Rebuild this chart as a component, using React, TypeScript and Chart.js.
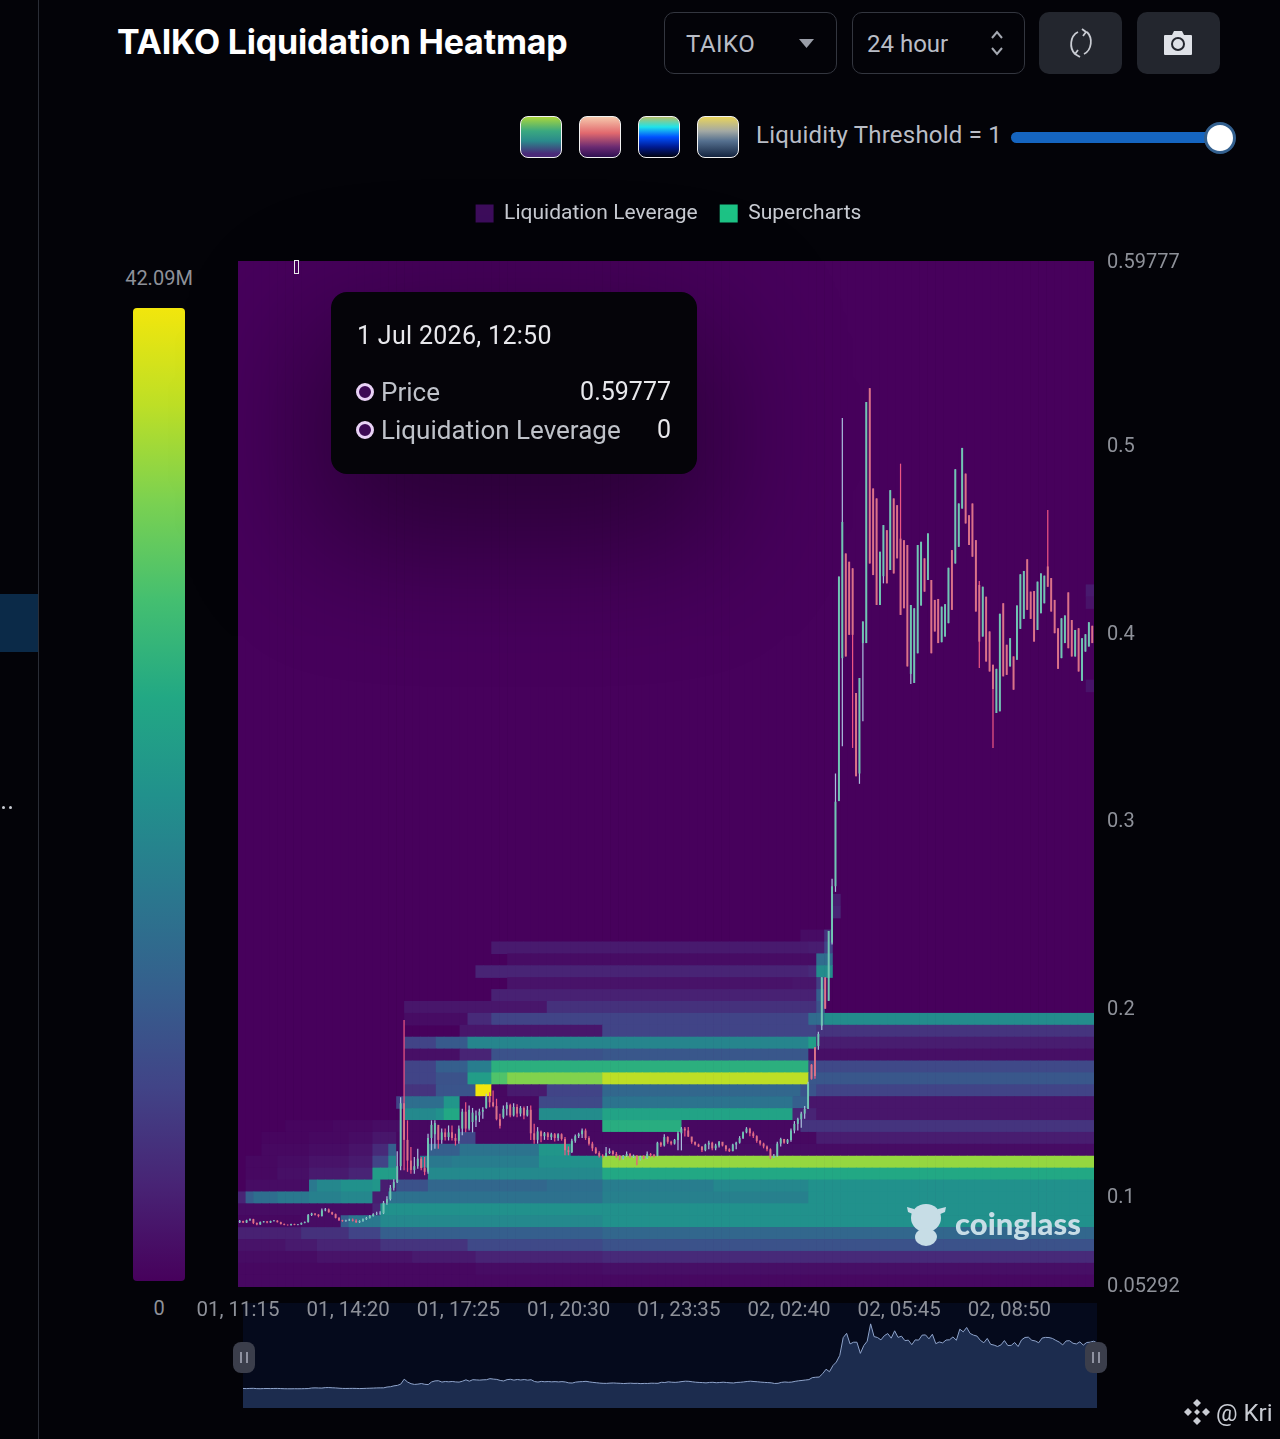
import React, { useEffect, useRef } from "react";
import { Chart, registerables } from "chart.js";

Chart.register(...registerables);

const xTickMinutes = [0, 185, 370, 555, 740, 925, 1110, 1295];
const xTickLabels = ["01, 11:15", "01, 14:20", "01, 17:25", "01, 20:30", "01, 23:35", "02, 02:40", "02, 05:45", "02, 08:50"];
const yTickValues = [0.05292, 0.1, 0.2, 0.3, 0.4, 0.5, 0.59777];
const legendNames = ["Liquidation Leverage", "Supercharts"];
const tooltipTitle = "1 Jul 2026, 12:50";
const tooltipPrice = "0.59777";
const tooltipLeverage = "0";
const colorbarMax = "42.09M";
const colorbarMin = "0";

// Candles (price units)
const candleOpen = [
  .0862,.0868,.0860,.0872,.0878,.0858,.0850,.0862,.0866,.0860,
  .0868,.0870,.0862,.0852,.0848,.0846,.0852,.0848,.0850,.0858,
  .0862,.0900,.0908,.0902,.0895,.0925,.0930,.0915,.0905,.0885,
  .0872,.0868,.0872,.0875,.0870,.0862,.0868,.0878,.0885,.0895,
  .0905,.0908,.0910,.0965,.0985,.1045,.1075,.1160,.1495,.1300,
  .1190,.1140,.1160,.1200,.1150,.1130,.1310,.1330,.1380,.1300,
  .1340,.1315,.1340,.1310,.1295,.1360,.1450,.1360,.1395,.1405,
  .1430,.1450,.1470,.1530,.1500,.1480,.1410,.1420,.1465,.1485,
  .1430,.1475,.1440,.1470,.1430,.1460,.1335,.1300,.1345,.1320,
  .1335,.1315,.1330,.1310,.1330,.1305,.1245,.1235,.1295,.1320,
  .1330,.1350,.1310,.1280,.1255,.1230,.1215,.1212,.1230,.1240,
  .1225,.1215,.1200,.1215,.1225,.1210,.1215,.1195,.1210,.1205,
  .1225,.1220,.1215,.1285,.1270,.1315,.1290,.1280,.1300,.1335,
  .1360,.1350,.1318,.1290,.1275,.1265,.1245,.1275,.1285,.1255,
  .1270,.1290,.1270,.1250,.1240,.1275,.1285,.1310,.1340,.1360,
  .1335,.1320,.1295,.1280,.1265,.1250,.1205,.1215,.1280,.1305,
  .1285,.1300,.1350,.1385,.1410,.1440,.1465,.1700,.1793,.1800,
  .1908,.2165,.2040,.2350,.2650,.3103,.3864,
  .4421,.4377,.4342,.3678,.3250,.3944,.3944,.5301,.4767,.4714,
  .4147,.4300,.4545,.4333,.4714,.4678,.4500,.4492,.4466,.3780,
  .3732,.3890,.4144,.4395,.4280,.4280,.4174,.4179,.3949,.3979,
  .4050,.4439,.4368,.4457,.4660,.4846,.4625,.4687,.4492,.4253,
  .3979,.4191,.4006,.3829,.3572,.3581,.4156,.3935,.3820,.3873,
  .3855,.4020,.4073,.4390,.4218,.4221,.4014,.4103,.4156,.4352,
  .4290,.4174,.4023,.3864,.3944,.4214,.4067,.3873,.4023,.3744,.3899,.3926,.4036,
];
const candleClose = [
  .0868,.0860,.0872,.0878,.0858,.0850,.0862,.0866,.0860,.0868,
  .0870,.0862,.0852,.0848,.0846,.0852,.0848,.0850,.0858,.0862,
  .0900,.0908,.0902,.0895,.0925,.0930,.0915,.0905,.0885,.0872,
  .0868,.0872,.0875,.0870,.0862,.0868,.0878,.0885,.0895,.0905,
  .0908,.0910,.0965,.0985,.1045,.1075,.1160,.1495,.1300,.1190,
  .1140,.1160,.1200,.1150,.1130,.1310,.1380,.1390,.1300,.1340,
  .1315,.1340,.1310,.1295,.1360,.1450,.1360,.1460,.1445,.1430,
  .1450,.1460,.1530,.1500,.1480,.1410,.1375,.1465,.1485,.1430,
  .1475,.1440,.1470,.1430,.1460,.1335,.1300,.1345,.1320,.1335,
  .1315,.1330,.1310,.1330,.1305,.1245,.1235,.1295,.1320,.1330,
  .1350,.1310,.1280,.1255,.1230,.1215,.1212,.1230,.1240,.1225,
  .1215,.1200,.1215,.1225,.1210,.1215,.1195,.1210,.1205,.1225,
  .1220,.1215,.1285,.1270,.1315,.1290,.1280,.1300,.1335,.1360,
  .1350,.1318,.1290,.1275,.1265,.1245,.1275,.1285,.1255,.1270,
  .1290,.1270,.1250,.1240,.1275,.1285,.1310,.1340,.1360,.1335,
  .1320,.1295,.1280,.1265,.1250,.1205,.1215,.1280,.1305,.1285,
  .1300,.1350,.1385,.1410,.1440,.1465,.1600,.1625,.1640,.1864,
  .2165,.1998,.2412,.2650,.3100,.4298,.4589,
  .3873,.3988,.3988,.3236,.3758,.4059,.5227,.4368,.4306,.4147,
  .4430,.4572,.4262,.4758,.4315,.4395,.4094,.4129,.3820,.4147,
  .4129,.4466,.4483,.4218,.4528,.3890,.4006,.3944,.4138,.4151,
  .4345,.4121,.4869,.4687,.4983,.4581,.4466,.4404,.4112,.3952,
  .4244,.3846,.3793,.3700,.3807,.4100,.3767,.3775,.3970,.3696,
  .4144,.4310,.4328,.4121,.4073,.3952,.4271,.4315,.4303,.4244,
  .4112,.3997,.3807,.4076,.4091,.3917,.3873,.4014,.3793,.3970,.3991,.4055,.3944,
];
const candleHigh = [
  .0873,.0870,.0875,.0882,.0880,.0860,.0865,.0868,.0868,.0870,
  .0874,.0872,.0864,.0855,.0850,.0854,.0854,.0852,.0860,.0866,
  .0905,.0912,.0910,.0905,.0935,.0938,.0935,.0918,.0908,.0888,
  .0875,.0875,.0880,.0882,.0878,.0872,.0882,.0890,.0900,.0910,
  .0918,.0920,.0975,.1000,.1060,.1090,.1240,.1527,.1938,.1404,
  .1262,.1209,.1253,.1209,.1209,.1333,.1404,.1404,.1368,.1360,
  .1360,.1377,.1377,.1333,.1377,.1466,.1500,.1483,.1470,.1457,
  .1466,.1474,.1545,.1554,.1563,.1519,.1439,.1483,.1500,.1492,
  .1495,.1490,.1480,.1478,.1480,.1483,.1386,.1368,.1350,.1342,
  .1342,.1338,.1336,.1335,.1335,.1315,.1265,.1306,.1328,.1338,
  .1360,.1360,.1320,.1290,.1262,.1240,.1224,.1262,.1255,.1245,
  .1235,.1220,.1220,.1238,.1230,.1222,.1220,.1215,.1218,.1238,
  .1230,.1225,.1290,.1290,.1330,.1320,.1295,.1305,.1345,.1368,
  .1368,.1368,.1315,.1290,.1280,.1265,.1280,.1295,.1290,.1280,
  .1294,.1288,.1272,.1255,.1280,.1290,.1320,.1345,.1368,.1365,
  .1345,.1325,.1300,.1285,.1270,.1255,.1225,.1290,.1312,.1305,
  .1305,.1360,.1400,.1418,.1450,.1480,.1610,.1704,.1793,.1875,
  .2165,.2165,.2412,.2690,.3250,.4298,.5142,
  .4421,.4377,.4342,.3678,.3758,.4059,.5227,.5301,.4767,.4714,
  .4430,.4572,.4545,.4758,.4714,.4678,.4899,.4492,.4466,.4147,
  .4129,.4466,.4483,.4395,.4528,.4280,.4174,.4179,.4138,.4151,
  .4345,.4439,.4869,.4687,.4983,.4846,.4625,.4687,.4492,.4275,
  .4244,.4191,.4006,.3829,.3807,.4100,.4156,.3935,.3970,.3873,
  .4144,.4310,.4328,.4390,.4218,.4221,.4271,.4315,.4303,.4652,
  .4290,.4174,.4023,.4076,.4091,.4214,.4067,.4014,.4023,.3970,.3991,.4055,.4036,
];
const candleLow = [
  .0858,.0858,.0858,.0870,.0852,.0846,.0848,.0860,.0856,.0858,
  .0866,.0860,.0850,.0846,.0844,.0844,.0846,.0846,.0848,.0856,
  .0860,.0895,.0898,.0888,.0892,.0920,.0912,.0900,.0882,.0868,
  .0864,.0864,.0868,.0866,.0858,.0858,.0864,.0874,.0882,.0892,
  .0900,.0902,.0905,.0955,.0978,.1030,.1070,.1138,.1138,.1130,
  .1120,.1120,.1147,.1138,.1112,.1120,.1244,.1253,.1253,.1280,
  .1297,.1297,.1297,.1270,.1280,.1324,.1340,.1350,.1340,.1368,
  .1395,.1412,.1466,.1474,.1474,.1404,.1360,.1412,.1430,.1420,
  .1425,.1420,.1425,.1410,.1425,.1300,.1280,.1280,.1288,.1300,
  .1300,.1300,.1292,.1295,.1296,.1218,.1218,.1230,.1285,.1310,
  .1310,.1300,.1270,.1240,.1225,.1206,.1206,.1210,.1225,.1215,
  .1205,.1191,.1195,.1210,.1205,.1205,.1165,.1190,.1198,.1200,
  .1210,.1208,.1212,.1262,.1265,.1280,.1272,.1275,.1245,.1244,
  .1318,.1315,.1280,.1270,.1262,.1235,.1240,.1250,.1245,.1245,
  .1260,.1265,.1240,.1235,.1240,.1250,.1280,.1305,.1335,.1320,
  .1310,.1285,.1270,.1255,.1240,.1198,.1205,.1210,.1265,.1280,
  .1278,.1290,.1335,.1350,.1365,.1412,.1465,.1620,.1625,.1780,
  .1885,.1998,.2040,.2340,.2620,.3103,.3395,
  .3873,.3988,.3386,.3236,.3195,.3528,.3944,.4368,.4306,.4147,
  .4147,.4262,.4262,.4333,.4315,.4395,.4094,.4129,.3820,.3726,
  .3732,.3890,.4144,.4218,.4280,.3890,.4006,.3944,.3949,.3979,
  .4050,.4121,.4368,.4457,.4660,.4581,.4466,.4404,.4112,.3811,
  .3979,.3846,.3793,.3386,.3572,.3581,.3767,.3775,.3820,.3696,
  .3855,.4020,.4073,.4121,.4073,.3952,.4014,.4103,.4156,.4244,
  .4112,.3997,.3807,.3864,.3944,.3917,.3873,.3873,.3793,.3744,.3899,.3926,.3944,
];

// Heatmap: price bands, each a list of runs [first column, level 0..1]
const heatColumnCount = 108;
const heatBandBottom = 0.0517;
const heatBandStep = 0.006335;
const heatBands = [0,1,2,3,4,5,6,7,8,9,10,11,12,13,14,15,16,17,18,19,20,21,22,23,24,25,26,27,28,29,31,32,50,57,58];
const heatRuns: number[][][] = [
  [[0,.02]],
  [[0,.02],[30,.03],[46,.04]],
  [[0,.03],[10,.05],[22,.07],[30,.1],[46,.12]],
  [[0,.05],[6,.07],[10,.1],[18,.15],[29,.22],[46,.25]],
  [[0,.09],[8,.14],[14,.2],[18,.3],[46,.33]],
  [[0,.02],[8,.03],[13,.3],[14,.4],[18,.47],[46,.5]],
  [[0,.03],[17,.1],[18,.5]],
  [[0,.1],[1,.3],[2,.36],[5,.4],[9,.43],[13,.46],[17,.08],[19,.37],[46,.43],[72,.5]],
  [[1,.03],[9,.4],[10,.46],[13,.5],[17,.52],[18,.08],[20,.25],[24,.33],[39,.36],[46,.42],[60,.46],[72,.5]],
  [[1,.02],[5,.04],[9,.07],[14,.1],[17,.55],[20,.05],[24,.47],[46,.6]],
  [[1,.02],[5,.03],[9,.05],[14,.07],[17,.2],[19,.45],[20,.02],[23,.4],[27,.42],[38,.5],[46,.84]],
  [[3,.02],[9,.03],[14,.05],[17,.12],[19,.3],[20,.02],[24,.3],[28,.38],[38,.52],[42,.03]],
  [[3,.01],[9,.02],[14,.03],[17,.06],[20,.02],[28,.22],[30,.02],[73,.08]],
  [[6,.01],[12,.02],[17,.03],[21,.02],[46,.62],[56,.02],[71,.15]],
  [[21,.47],[25,.5],[26,.6],[28,.02],[38,.48],[46,.58],[70,.1],[73,.06]],
  [[20,.2],[21,.36],[26,.52],[28,.02],[38,.22],[46,.38],[70,.3],[72,.06]],
  [[21,.15],[25,.26],[30,1],[32,.02],[34,.07],[39,.2],[46,.33],[71,.26],[73,.2]],
  [[21,.2],[25,.25],[29,.55],[32,.72],[34,.81],[46,.9],[72,.27]],
  [[21,.2],[25,.3],[29,.42],[32,.63],[72,.22]],
  [[21,.04],[28,.1],[32,.25],[46,.27],[72,.04]],
  [[21,.2],[25,.28],[29,.45],[72,.55],[73,.08]],
  [[28,.06],[46,.2],[73,.15]],
  [[21,.03],[29,.12],[32,.2],[72,.35],[74,.48]],
  [[21,.06],[39,.14],[73,.25],[74,0]],
  [[32,.09],[73,.3],[74,0]],
  [[34,.05],[70,.06],[73,.18],[74,0]],
  [[30,.1],[72,.12],[73,.48],[75,0]],
  [[34,.03],[73,.35],[75,0]],
  [[32,.07],[72,.08],[74,.2],[75,0]],
  [[71,.03],[74,.15],[75,0]],
  [[75,.1],[76,0]],
  [[75,.08],[76,0]],
  [[107,.05]],
  [[107,.05]],
  [[107,.07]],
];

const VIRIDIS = ["#47015c","#482475","#414487","#355f8d","#2a788e","#21918c","#22a884","#44bf70","#7ad151","#bddf26","#f2e60c"];
function hexToRgb(h: string) {
  return [parseInt(h.slice(1, 3), 16), parseInt(h.slice(3, 5), 16), parseInt(h.slice(5, 7), 16)];
}
function heatColor(level: number) {
  const p = Math.min(0.9999, level) * (VIRIDIS.length - 1);
  const i = Math.floor(p);
  const a = hexToRgb(VIRIDIS[i]);
  const b = hexToRgb(VIRIDIS[i + 1]);
  const t = p - i;
  return `rgb(${a.map((v, k) => Math.round(v + (b[k] - v) * t)).join(",")})`;
}
function levelAt(runs: number[][], col: number) {
  let level = 0;
  for (const [start, value] of runs) if (start <= col) level = value;
  return level;
}

const UI_FONT = "Roboto, sans-serif";
const Y_MIN = 0.0517;
const Y_MAX = 0.59777;

function App() {
  const mainRef = useRef<HTMLCanvasElement>(null);
  const miniRef = useRef<HTMLCanvasElement>(null);

  useEffect(() => {
    document.body.style.margin = "0";
    document.body.style.background = "#030308";
    const heatLabels = Array.from({ length: heatColumnCount }, (_, i) => String(i));
    const candleLabels = candleClose.map((_, i) => String(i));

    const heatDatasets: any[] = heatBands.map((band, idx) => {
      const lo = heatBandBottom + band * heatBandStep;
      const levels = heatLabels.map((_, c) => levelAt(heatRuns[idx], c));
      return {
        type: "bar",
        xAxisID: "xHeat",
        yAxisID: "y",
        order: 10,
        grouped: false,
        barPercentage: 1,
        categoryPercentage: 1,
        borderWidth: 0,
        data: levels.map((l) => (l > 0 ? [lo, lo + heatBandStep] : null)),
        backgroundColor: levels.map((l) => heatColor(l)),
      };
    });

    const main = new Chart(mainRef.current!, {
      type: "bar",
      data: {
        labels: heatLabels,
        datasets: [
          {
            type: "bar",
            label: legendNames[1],
            xAxisID: "xCandle",
            yAxisID: "y",
            order: 0,
            grouped: false,
            categoryPercentage: 1,
            barPercentage: 0.56,
            borderWidth: 0,
            data: candleClose.map((c, i) => [candleOpen[i], c]),
            backgroundColor: candleClose.map((c, i) => (c >= candleOpen[i] ? "#6fc6b2" : "#da7389")),
          },
          {
            type: "bar",
            label: "wick",
            xAxisID: "xCandle",
            yAxisID: "y",
            order: 1,
            grouped: false,
            categoryPercentage: 1,
            barPercentage: 0.36,
            borderWidth: 0,
            data: candleClose.map((_, i) => [candleLow[i], candleHigh[i]]),
            backgroundColor: candleClose.map((c, i) => (c >= candleOpen[i] ? "#a9bddc" : "#ec5583")),
          },
          ...heatDatasets,
          {
            type: "bar",
            label: legendNames[0],
            xAxisID: "xHeat",
            yAxisID: "y",
            order: 20,
            grouped: false,
            barPercentage: 1,
            categoryPercentage: 1,
            borderWidth: 0,
            data: heatLabels.map(() => [Y_MIN, Y_MAX]),
            backgroundColor: heatColor(0),
          },
        ] as any,
      },
      options: {
        animation: false,
        responsive: false,
        events: [],
        layout: { autoPadding: false, padding: { left: 138, right: 0, top: 32, bottom: 0 } },
        plugins: {
          tooltip: { enabled: false },
          legend: {
            display: true,
            position: "top",
            onClick: () => {},
            labels: {
              padding: 22,
              boxWidth: 18,
              boxHeight: 18,
              color: "#c9ccd3",
              font: { family: UI_FONT, size: 21 },
              generateLabels: () => [
                { text: legendNames[0], fillStyle: "#3d0d5c", strokeStyle: "transparent", fontColor: "#c9ccd3", lineWidth: 0, hidden: false },
                { text: legendNames[1], fillStyle: "#1dc486", strokeStyle: "transparent", fontColor: "#c9ccd3", lineWidth: 0, hidden: false },
              ],
            },
          },
        },
        scales: {
          xHeat: { type: "category", labels: heatLabels, display: false, offset: true, grid: { display: false } },
          xCandle: { type: "category", labels: candleLabels, display: false, offset: true, grid: { display: false } },
          x: {
            type: "linear",
            position: "bottom",
            offset: false,
            min: 0,
            max: 1437,
            grid: { display: false, drawTicks: false, offset: false },
            border: { display: false },
            afterBuildTicks: (s: any) => {
              s.ticks = xTickMinutes.map((value) => ({ value }));
            },
            afterFit: (s: any) => {
              s.height = 43;
            },
            ticks: {
              autoSkip: false,
              maxRotation: 0,
              padding: 12,
              color: "#8e9199",
              font: { family: UI_FONT, size: 20.5 },
              callback: (v: any) => xTickLabels[xTickMinutes.indexOf(v)],
            },
          },
          y: {
            type: "linear",
            position: "right",
            min: Y_MIN,
            max: Y_MAX,
            stacked: false,
            grid: { display: false, drawTicks: false },
            border: { display: false },
            afterBuildTicks: (s: any) => {
              s.ticks = yTickValues.map((value) => ({ value }));
            },
            afterFit: (s: any) => {
              s.width = 186;
            },
            ticks: {
              autoSkip: false,
              padding: 13,
              labelOffset: 2,
              color: "#8e9199",
              font: { family: UI_FONT, size: 20 },
              callback: (v: any) => String(v),
            },
          },
        },
      } as any,
      plugins: [
        {
          id: "legendPlace",
          afterLayout(chart: any) {
            // put the legend where the reference has it (page coordinates less the canvas offset)
            chart.legend.left = 418 - 100;
            chart.legend.right = 919 - 100;
            chart.legend.top = 5;
          },
        },
      ],
    });

    const mini = new Chart(miniRef.current!, {
      type: "line",
      data: {
        labels: candleLabels,
        datasets: [
          {
            data: candleClose,
            borderColor: "#8fa4cb",
            borderWidth: 1,
            pointRadius: 0,
            fill: "start",
            backgroundColor: "#1c2c4e",
            tension: 0,
          },
        ],
      },
      options: {
        animation: false,
        responsive: false,
        events: [],
        layout: { autoPadding: false },
        plugins: { legend: { display: false }, tooltip: { enabled: false } },
        scales: {
          x: { display: false },
          y: { display: false, min: -0.045, max: 0.65 },
        },
      } as any,
    });

    return () => {
      main.destroy();
      mini.destroy();
    };
  }, []);

  const abs = (s: React.CSSProperties): React.CSSProperties => ({ position: "absolute", ...s });
  const boxText: React.CSSProperties = { fontFamily: UI_FONT, fontSize: 24, color: "#b9bdc6", lineHeight: "28px" };
  const swatches = [
    "linear-gradient(#a9d63c,#3aa880 35%,#2a8a8c 60%,#4a2a78 92%)",
    "linear-gradient(#f6c8ac,#e2696e 40%,#6a2a72 75%,#2e1050)",
    "linear-gradient(#b4c06a,#1fe3ea 25%,#0050ff 50%,#001a90 75%,#00020f)",
    "linear-gradient(#e9d45c,#a3a9a4 35%,#55708f 60%,#14243f)",
  ];

  return (
    <div style={abs({ left: 0, top: 0, width: 1280, height: 1439, background: "#030308", overflow: "hidden" })}>
      {/* sidebar */}
      <div style={abs({ left: 38, top: 0, width: 1, height: 1439, background: "#2a2d36" })} />
      <div style={abs({ left: 0, top: 594, width: 38, height: 58, background: "#0b2a48" })} />
      <div style={abs({ left: 2, top: 806, width: 3, height: 3, background: "#c9ccd3", borderRadius: 2 })} />
      <div style={abs({ left: 9, top: 806, width: 3, height: 3, background: "#c9ccd3", borderRadius: 2 })} />

      {/* header */}
      <div style={abs({ left: 117, top: 20, fontFamily: "Inter, sans-serif", fontWeight: 700, fontSize: 34, lineHeight: "44px", color: "#fff", letterSpacing: -0.2, whiteSpace: "nowrap" })}>
        TAIKO Liquidation Heatmap
      </div>
      <div style={abs({ left: 664, top: 12, width: 171, height: 60, border: "1px solid #33363f", borderRadius: 10 })} />
      <div style={abs({ left: 686, top: 30, ...boxText, letterSpacing: 0.5 })}>TAIKO</div>
      <svg style={abs({ left: 799, top: 39 })} width="15" height="9"><path d="M0 0h15L7.5 9z" fill="#9a9ea8" /></svg>
      <div style={abs({ left: 852, top: 12, width: 171, height: 60, border: "1px solid #33363f", borderRadius: 10 })} />
      <div style={abs({ left: 867, top: 30, ...boxText })}>24 hour</div>
      <svg style={abs({ left: 990, top: 29 })} width="14" height="28" fill="none" stroke="#a5a9b2" strokeWidth="2">
        <path d="M2 9l5-6 5 6M2 19l5 6 5-6" />
      </svg>
      <div style={abs({ left: 1039, top: 12, width: 83, height: 62, background: "#23262e", borderRadius: 10 })} />
      <svg style={abs({ left: 1066, top: 28 })} width="30" height="30" fill="none" stroke="#c9ccd3" strokeWidth="1.8">
        <path d="M12 4C4 8 3 20 9 26M18 26c8-4 9-16 3-22M16 1l4 3-3 4M14 29l-5-3 3-4" />
      </svg>
      <div style={abs({ left: 1137, top: 12, width: 83, height: 62, background: "#23262e", borderRadius: 10 })} />
      <svg style={abs({ left: 1163, top: 30 })} width="30" height="26">
        <path d="M2 5h7l2-4h8l2 4h7a1 1 0 011 1v18a1 1 0 01-1 1H2a1 1 0 01-1-1V6a1 1 0 011-1z" fill="#dfe2e8" />
        <circle cx="15" cy="14" r="6" fill="none" stroke="#23262e" strokeWidth="2" />
      </svg>

      {/* palette + threshold */}
      {swatches.map((g, i) => (
        <div key={i} style={abs({ left: 520 + i * 59, top: 116, width: 40, height: 40, background: g, border: "1px solid #f2f2f2", borderRadius: 8 })} />
      ))}
      <div style={abs({ left: 756, top: 121, ...boxText, letterSpacing: 0.22, whiteSpace: "nowrap" })}>Liquidity Threshold = 1</div>
      <div style={abs({ left: 1011, top: 132, width: 209, height: 11, background: "#1565c0", borderRadius: 6 })} />
      <div style={abs({ left: 1204, top: 122, width: 26, height: 26, background: "#fff", border: "3px solid #33608f", borderRadius: "50%" })} />

      {/* colour bar */}
      <div style={abs({ left: 100, top: 266, width: 118, textAlign: "center", fontFamily: UI_FONT, fontSize: 20, lineHeight: "24px", color: "#8e9199" })}>{colorbarMax}</div>
      <div style={abs({ left: 133, top: 308, width: 52, height: 973, borderRadius: 4, background: `linear-gradient(to top,${VIRIDIS.join(",")})` })} />
      <div style={abs({ left: 100, top: 1296, width: 118, textAlign: "center", fontFamily: UI_FONT, fontSize: 20, lineHeight: "24px", color: "#8e9199" })}>{colorbarMin}</div>

      {/* minimap */}
      <div style={abs({ left: 243, top: 1303, width: 854, height: 105, background: "#050a1c" })} />
      <canvas ref={miniRef} width={854} height={103} style={abs({ left: 243, top: 1305, width: 854, height: 103 })} />
      {[244, 1096].map((x) => (
        <div key={x} style={abs({ left: x - 11, top: 1342, width: 22, height: 31, background: "#3b3e4b", borderRadius: 8 })}>
          <div style={abs({ left: 7, top: 10, width: 2, height: 11, background: "#8f92a0" })} />
          <div style={abs({ left: 13, top: 10, width: 2, height: 11, background: "#8f92a0" })} />
        </div>
      ))}

      {/* main chart */}
      <canvas ref={mainRef} width={1180} height={1154} style={abs({ left: 100, top: 176, width: 1180, height: 1154 })} />

      {/* watermark */}
      <svg style={abs({ left: 906, top: 1201 })} width="42" height="46" fill="#c7dde6">
        <ellipse cx="20" cy="17" rx="15" ry="14" />
        <path d="M8 8L1 6l1 5 7 3zM32 8l8-2-1 5-7 3z" />
        <ellipse cx="20" cy="36" rx="11" ry="9" />
      </svg>
      <div style={abs({ left: 955, top: 1206, fontFamily: "Lato, sans-serif", fontWeight: 900, fontSize: 31, lineHeight: "34px", color: "#c7dde6", whiteSpace: "nowrap" })}>coinglass</div>

      {/* marker */}
      <div style={abs({ left: 294, top: 260, width: 3, height: 12, border: "1.5px solid #f2f2f2", background: "#47015c" })} />

      {/* tooltip */}
      <div style={abs({ left: 331, top: 292, width: 366, height: 182, background: "#050409", borderRadius: 16, boxShadow: "0 50px 130px 20px rgba(0,0,0,.42)" })}>
        <div style={abs({ left: 26, top: 29, fontFamily: UI_FONT, fontSize: 25, letterSpacing: 0.3, lineHeight: "30px", color: "#e8e8ec", whiteSpace: "nowrap" })}>{tooltipTitle}</div>
        {[
          ["Price", tooltipPrice, 85],
          ["Liquidation Leverage", tooltipLeverage, 123],
        ].map(([name, value, top]: any) => (
          <React.Fragment key={name}>
            <div style={abs({ left: 25, top: top + 6, width: 12, height: 12, borderRadius: "50%", background: "#3d0a55", border: "3px solid #e9d2f6" })} />
            <div style={abs({ left: 50, top, fontFamily: UI_FONT, fontSize: 26, lineHeight: "30px", color: "#bfc2c9", whiteSpace: "nowrap" })}>{name}</div>
            <div style={abs({ right: 26, top, fontFamily: UI_FONT, fontSize: 25, lineHeight: "30px", color: "#e8e8ec" })}>{value}</div>
          </React.Fragment>
        ))}
      </div>

      {/* credit */}
      <svg style={abs({ left: 1183, top: 1398 })} width="28" height="28" fill="#c9ccd3">
        <path d="M14 1l4 4-4 4-4-4zM5 10l4 4-4 4-4-4zM23 10l4 4-4 4-4-4zM14 19l4 4-4 4-4-4zM14 11l3 3-3 3-3-3z" />
      </svg>
      <div style={abs({ left: 1216, top: 1398, fontFamily: UI_FONT, fontSize: 24, lineHeight: "30px", color: "#c9ccd3", whiteSpace: "nowrap" })}>@ Kri</div>
    </div>
  );
}

export default App;
